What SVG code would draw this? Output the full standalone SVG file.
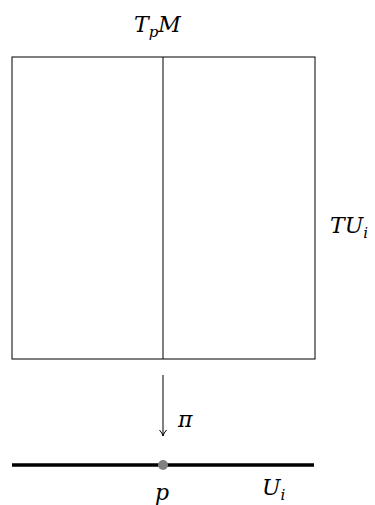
<svg xmlns="http://www.w3.org/2000/svg" width="375" height="505" viewBox="0 0 375 505">
<style>
.t{font-family:"DejaVu Serif",serif;font-style:italic;font-size:22px;fill:#000}
.s{font-size:15px}
</style>
<defs>
<marker id="ah" markerWidth="10" markerHeight="10" refX="8" refY="5" orient="auto" markerUnits="userSpaceOnUse" viewBox="0 0 10 10">
<path d="M2,1.5 Q5,4.3 8,5 Q5,5.7 2,8.5" fill="none" stroke="#000" stroke-width="1"/>
</marker>
</defs>
<rect width="375" height="505" fill="#fff"/>
<g id="tangent-bundle">
<rect x="12" y="57" width="303" height="302" fill="none" stroke="#000" stroke-width="1"/>
<text class="t" x="330" y="233">TU<tspan class="s" dy="5">i</tspan></text>
</g>
<g id="fiber">
<line x1="163" y1="57" x2="163" y2="359" stroke="#000" stroke-width="1"/>
<text class="t" x="134" y="32">T<tspan class="s" dy="5">p</tspan><tspan dy="-5">M</tspan></text>
</g>
<g id="base">
<line x1="12" y1="465" x2="314" y2="465" stroke="#000" stroke-width="3.5"/>
<text class="t" x="262" y="495">U<tspan class="s" dy="5">i</tspan></text>
</g>
<g id="point-p">
<circle cx="163" cy="465" r="5" fill="#808080"/>
<text class="t" x="155" y="500">p</text>
</g>
<g id="connectors">
<line x1="163" y1="375" x2="163" y2="436" stroke="#000" stroke-width="1" marker-end="url(#ah)"/>
<text class="t" x="178" y="427">π</text>
</g>
</svg>
